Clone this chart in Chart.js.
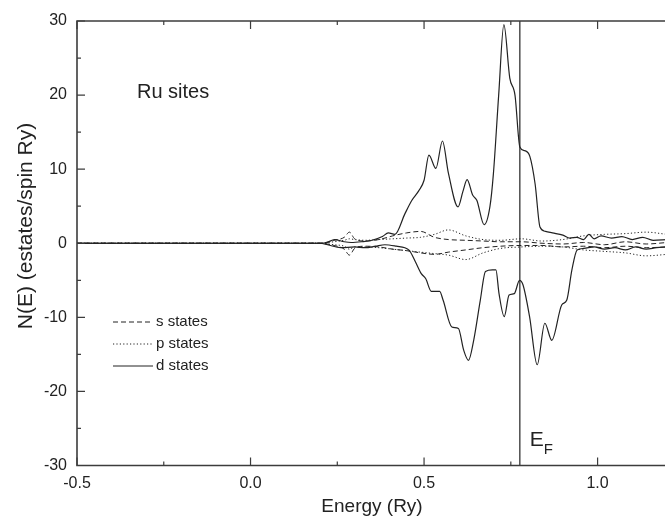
<!DOCTYPE html>
<html>
<head>
<meta charset="utf-8">
<script src="https://cdn.jsdelivr.net/npm/chart.js@4/dist/chart.umd.min.js"></script>
<style>
  html, body { margin:0; padding:0; background:#fff; overflow:hidden; }
  #wrap { width:670px; height:524px; }
</style>
</head>
<body>
<div id="wrap"><canvas id="dos" width="670" height="524"></canvas></div>
<script>
// Ru sites, spin-resolved partial DOS
const EF = 0.776;
const xTicks = [-0.5, 0.0, 0.5, 1.0];
const xMinor = [-0.25, 0.25, 0.75];
const yTicks = [-30, -20, -10, 0, 10, 20, 30];
const yMinor = [-25, -15, -5, 5, 15, 25];

const dUpE = [-0.5, 0.2, 0.22, 0.242, 0.27, 0.29, 0.32, 0.35, 0.38, 0.397, 0.416, 0.445, 0.465, 0.485, 0.5, 0.514, 0.534, 0.553, 0.57, 0.598, 0.612, 0.624, 0.64, 0.652, 0.673, 0.69, 0.70, 0.715, 0.73, 0.747, 0.762, 0.776, 0.79, 0.805, 0.82, 0.834, 0.85, 0.87, 0.9, 0.92, 0.94, 0.96, 0.975, 0.99, 1.01, 1.04, 1.07, 1.1, 1.13, 1.16, 1.2];
const dUpN = [0, 0, 0.1, 0.5, 0.2, 0.1, 0.2, 0.4, 0.9, 1.4, 1.2, 4, 5.8, 7.1, 8.5, 11.9, 10.1, 13.8, 9.5, 4.9, 7, 8.6, 6.5, 5.8, 2.5, 5, 9.5, 20, 29.5, 22.3, 20, 13, 12.5, 11.7, 8, 2.2, 1.6, 1.4, 1.1, 0.7, 0.8, 0.5, 1.2, 0.6, 1.0, 0.7, 0.9, 0.5, 0.8, 0.4, 0.5];

const dDnE = [-0.5, 0.2, 0.222, 0.26, 0.3, 0.33, 0.36, 0.387, 0.42, 0.456, 0.475, 0.492, 0.505, 0.521, 0.545, 0.555, 0.58, 0.599, 0.614, 0.628, 0.643, 0.662, 0.677, 0.697, 0.707, 0.716, 0.731, 0.745, 0.76, 0.775, 0.785, 0.804, 0.826, 0.848, 0.868, 0.897, 0.911, 0.926, 0.941, 0.96, 0.99, 1.02, 1.05, 1.08, 1.11, 1.14, 1.17, 1.2];
const dDnN = [0, 0, -0.2, -0.6, -0.5, -0.6, -0.4, -0.2, -0.4, -0.9, -2.5, -4.1, -4.8, -6.5, -6.5, -7.7, -11.3, -11.5, -14.4, -15.8, -13.1, -7.7, -3.8, -3.6, -3.6, -6.8, -9.9, -7, -6.8, -5, -5.6, -9.9, -16.4, -10.8, -13.1, -8.3, -7.7, -3.6, -0.9, -0.7, -0.5, -0.8, -0.6, -0.9, -0.5, -0.8, -0.6, -0.5];

const spE = [-0.5, 0.2, 0.24, 0.27, 0.285, 0.3, 0.33, 0.37, 0.41, 0.45, 0.49, 0.53, 0.57, 0.62, 0.67, 0.72, 0.78, 0.84, 0.9, 0.96, 1.02, 1.08, 1.14, 1.2];
const sUpN = [0, 0, 0.4, 0.8, 1.5, 0.6, 0.3, 0.5, 1.0, 1.4, 1.6, 0.8, 0.5, 0.4, 0.3, 0.2, 0.2, 0.0, -0.1, 0.1, -0.2, 0.2, -0.1, 0.1];
const sDnN = [0, 0, -0.3, -0.8, -1.6, -0.7, -0.4, -0.5, -0.8, -1.0, -1.3, -1.5, -1.2, -0.9, -0.6, -0.4, -0.3, -0.3, -0.5, -0.4, -0.6, -0.4, -0.6, -0.5];
const pUpN = [0, 0, 0.2, 0.4, 0.6, 0.5, 0.4, 0.5, 0.6, 0.7, 0.8, 1.2, 1.8, 1.0, 0.5, 0.4, 0.6, 0.3, 0.5, 1.0, 1.2, 1.3, 1.5, 1.2];
const pDnN = [0, 0, -0.2, -0.4, -0.8, -0.5, -0.5, -0.6, -0.8, -1.0, -1.2, -1.4, -1.6, -2.2, -1.3, -0.7, -0.5, -0.4, -0.5, -0.9, -1.1, -1.3, -1.7, -1.5];

const INK = '#222';
const FONT = '"Liberation Sans", Arial, sans-serif';
const DASH_S = [5, 3];
const DASH_P = [1.2, 2.2];

const pts = (xs, ys) => xs.map((x, i) => ({ x, y: ys[i] }));
const curve = (label, xs, ys, dash, w) => ({
  label, data: pts(xs, ys), borderColor: INK, borderWidth: w, borderDash: dash,
  pointRadius: 0, fill: false, cubicInterpolationMode: 'monotone'
});

const datasets = [
  curve('s up', spE, sUpN, DASH_S, 1),
  curve('s down', spE, sDnN, DASH_S, 1),
  curve('p up', spE, pUpN, DASH_P, 1),
  curve('p down', spE, pDnN, DASH_P, 1),
  curve('d up', dUpE, dUpN, [], 1.2),
  curve('d down', dDnE, dDnN, [], 1.2),
  { label: 'EF', data: [{ x: EF, y: -30 }, { x: EF, y: 30 }], borderColor: INK, borderWidth: 1.2, pointRadius: 0, tension: 0 }
];

const legendRows = [
  { text: 's states', dash: DASH_S, y: 322 },
  { text: 'p states', dash: DASH_P, y: 344 },
  { text: 'd states', dash: [], y: 366 }
];

// axes frame with inward ticks, legend and labels
const framePlugin = {
  id: 'frame',
  afterDraw(chart) {
    const { ctx, chartArea: a, scales: { x, y } } = chart;
    ctx.save();
    ctx.strokeStyle = '#3c3c3c';
    ctx.lineWidth = 1.6;
    ctx.setLineDash([]);
    ctx.beginPath();
    ctx.moveTo(a.right, a.top); ctx.lineTo(a.left, a.top);
    ctx.lineTo(a.left, a.bottom); ctx.lineTo(a.right, a.bottom);
    ctx.stroke();
    ctx.lineWidth = 1.2;
    ctx.beginPath();
    const xt = (v, len) => {
      const px = x.getPixelForValue(v);
      ctx.moveTo(px, a.bottom); ctx.lineTo(px, a.bottom - len);
      ctx.moveTo(px, a.top); ctx.lineTo(px, a.top + len);
    };
    const yt = (v, len) => {
      const py = y.getPixelForValue(v);
      ctx.moveTo(a.left, py); ctx.lineTo(a.left + len, py);
    };
    xTicks.forEach(v => xt(v, 8)); xMinor.forEach(v => xt(v, 4));
    yTicks.forEach(v => yt(v, 8)); yMinor.forEach(v => yt(v, 4));
    ctx.stroke();

    // legend
    ctx.strokeStyle = INK; ctx.lineWidth = 1;
    ctx.fillStyle = '#222';
    ctx.font = '15px ' + FONT;
    ctx.textBaseline = 'middle';
    legendRows.forEach(r => {
      ctx.setLineDash(r.dash);
      ctx.beginPath(); ctx.moveTo(113, r.y); ctx.lineTo(153, r.y); ctx.stroke();
      ctx.fillText(r.text, 156, r.y);
    });
    ctx.setLineDash([]);

    // labels
    ctx.textBaseline = 'alphabetic';
    ctx.font = '20px ' + FONT;
    ctx.fillText('Ru sites', 137, 98);
    const ex = x.getPixelForValue(EF);
    ctx.font = '21px ' + FONT;
    ctx.fillText('E', ex + 10, 446);
    ctx.font = '15px ' + FONT;
    ctx.fillText('F', ex + 24, 454);

    ctx.font = '19px ' + FONT;
    ctx.textAlign = 'center';
    ctx.fillText('Energy (Ry)', (a.left + a.right) / 2, 512);
    ctx.translate(32, 226);
    ctx.rotate(-Math.PI / 2);
    ctx.font = '21px ' + FONT;
    ctx.fillText('N(E) (estates/spin Ry)', 0, 0);
    ctx.restore();
  }
};

new Chart(document.getElementById('dos'), {
  type: 'line',
  data: { datasets },
  options: {
    responsive: false,
    animation: false,
    layout: { padding: { top: 21, right: 3, left: 0, bottom: 0 } },
    plugins: { legend: { display: false }, tooltip: { enabled: false } },
    scales: {
      x: {
        type: 'linear', min: -0.5, max: 1.2,
        grid: { display: false, drawTicks: false }, border: { display: false },
        afterBuildTicks: s => { s.ticks = xTicks.map(v => ({ value: v })); },
        afterFit: s => { s.height = 58.5; },
        ticks: { padding: 8, color: '#222', font: { family: FONT, size: 16 }, maxRotation: 0,
          callback: v => Number(v).toFixed(1) }
      },
      y: {
        type: 'linear', min: -30, max: 30,
        grid: { display: false, drawTicks: false }, border: { display: false },
        afterBuildTicks: s => { s.ticks = yTicks.map(v => ({ value: v })); },
        afterFit: s => { s.width = 77; },
        ticks: { padding: 10, color: '#222', font: { family: FONT, size: 16 },
          callback: v => String(v) }
      }
    }
  },
  plugins: [framePlugin]
});
</script>
</body>
</html>
